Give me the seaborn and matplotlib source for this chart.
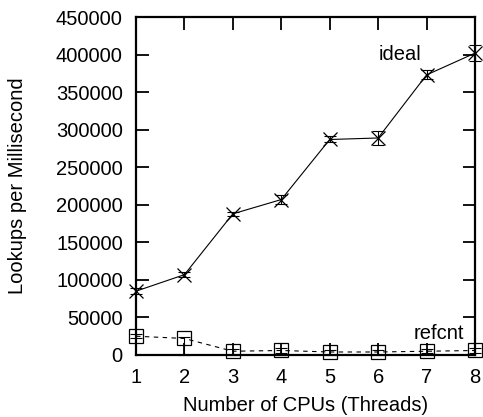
import matplotlib
matplotlib.use('Agg')
import matplotlib.pyplot as plt
import numpy as np
import pandas as pd
import seaborn as sns

# data
cpus = [1, 2, 3, 4, 5, 6, 7, 8]
ideal = [85000, 107000, 188000, 207000, 287000, 289000, 373000, 402000]
ideal_err = [4000, 3000, 3000, 6000, 4000, 9000, 6000, 11000]
refcnt = [25000, 22000, 5000, 6000, 4000, 4000, 5000, 6000]
refcnt_lo = [3000, 22000, 5000, 4000, 4000, 4000, 3000, 3000]
refcnt_hi = [3000, 2000, 3000, 3000, 3000, 3000, 3000, 3000]
yticks = list(range(0, 450001, 50000))

df = pd.DataFrame({'cpus': cpus, 'ideal': ideal, 'refcnt': refcnt})

sns.set_style('ticks', {'text.color': 'black', 'axes.labelcolor': 'black',
                        'xtick.color': 'black', 'ytick.color': 'black',
                        'axes.edgecolor': 'black'})
plt.rcParams['font.family'] = ['Liberation Sans', 'DejaVu Sans']
fs = 14.5

fig = plt.figure(figsize=(4.83, 4.17), dpi=100)
ax = fig.add_axes([0.2816, 0.1487, 0.7018, 0.8103])

sns.lineplot(data=df, x='cpus', y='ideal', ax=ax, color='black', lw=0.8,
             marker='x', markersize=10, markeredgecolor='black',
             markeredgewidth=0.9, clip_on=False)
ax.errorbar(cpus, ideal, yerr=ideal_err, fmt='none', ecolor='black',
            elinewidth=0.8, capsize=4, capthick=0.8, clip_on=False)

sns.lineplot(data=df, x='cpus', y='refcnt', ax=ax, color='black', lw=0.8,
             linestyle=(0, (4, 4)), marker='s', markersize=10,
             markerfacecolor='none', markeredgecolor='black',
             markeredgewidth=0.9, clip_on=False)
ax.errorbar(cpus, refcnt, yerr=[refcnt_lo, refcnt_hi], fmt='none', ecolor='black',
            elinewidth=0.8, capsize=4, capthick=0.8, clip_on=False)

ax.text(6.9, 400000, 'ideal', ha='right', va='center', fontsize=fs, color='black')
ax.text(7.78, 28000, 'refcnt', ha='right', va='center', fontsize=fs, color='black')

ax.set_xlim(1, 8)
ax.set_ylim(0, 450000)
ax.set_xticks(cpus)
ax.set_yticks(yticks)
ax.tick_params(direction='in', length=9, width=1.3, top=True, right=True,
               labelsize=fs, pad=9.5, colors='black')
for s in ax.spines.values():
    s.set_linewidth(1.6)
    s.set_color('black')
    s.set_visible(True)

ax.set_xlabel('Number of CPUs (Threads)', fontsize=fs, labelpad=6, color='black')
ax.set_ylabel('Lookups per Millisecond', fontsize=fs, labelpad=21, color='black')

fig.savefig('out.png', dpi=100)
